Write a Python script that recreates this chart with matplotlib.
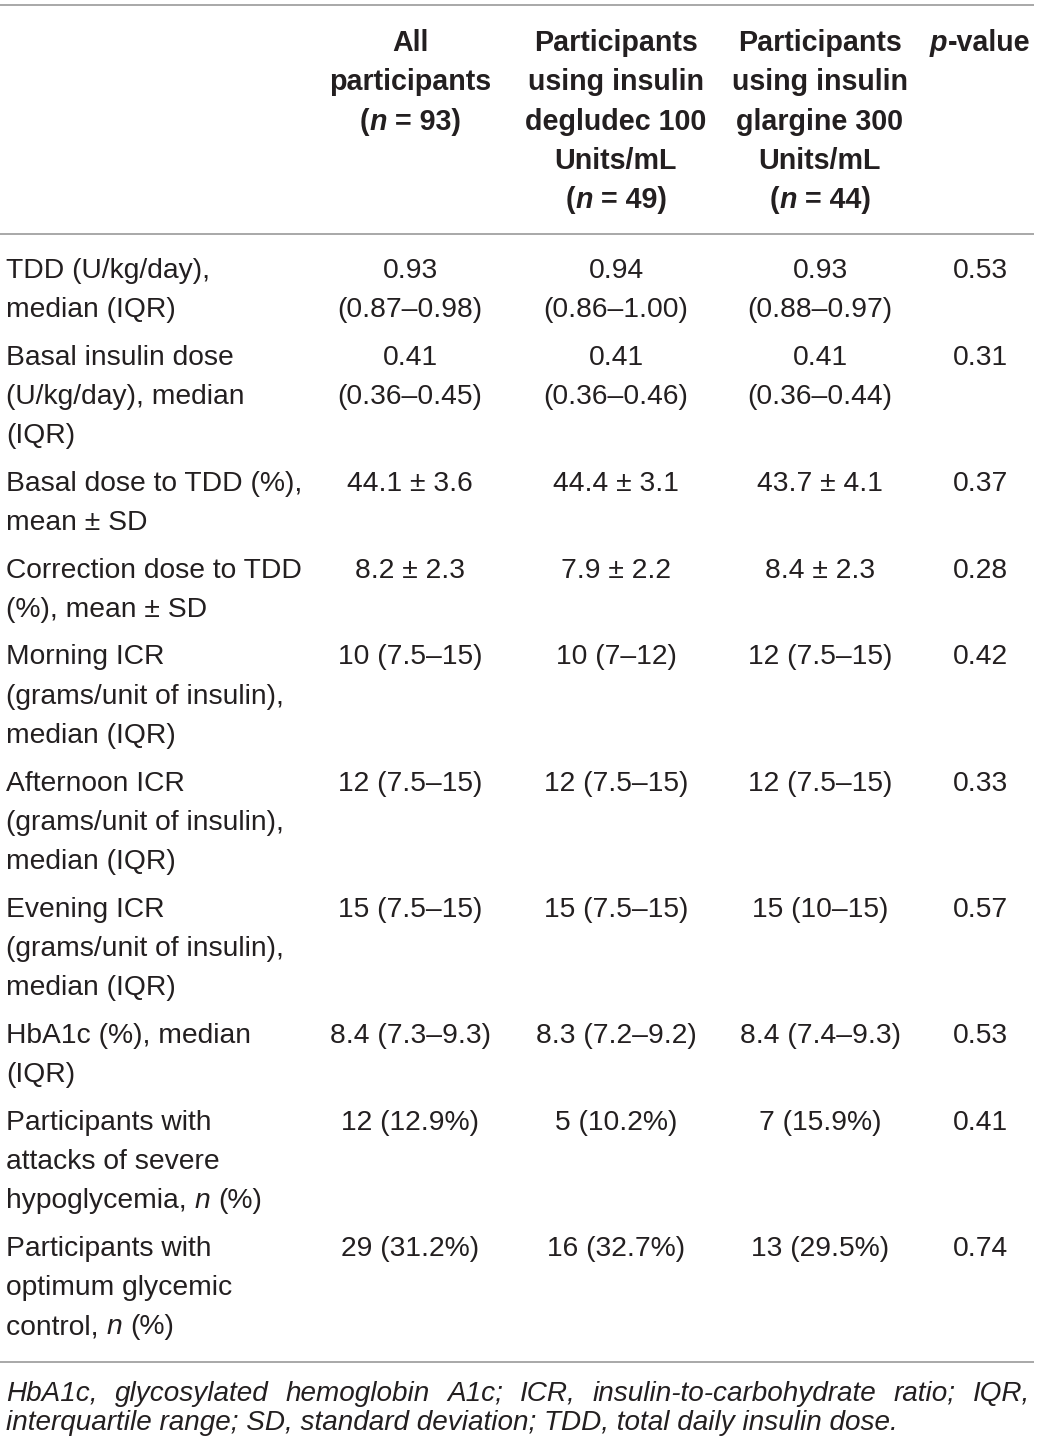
import matplotlib
matplotlib.use("Agg")
import matplotlib.pyplot as plt
from matplotlib import font_manager

# 字体和颜色
FONT = "Liberation Sans"
installed = {f.name for f in font_manager.fontManager.ttflist}
FOOT_FONT = "Liberation Sans Narrow" if "Liberation Sans Narrow" in installed else FONT
TEXT_COLOR = "#231f20"
LINE_COLOR = "#9a9a9a"

# 表头 (*...* 表示斜体)
col_headers = [
    ["All", "participants", "(*n* = 93)"],
    ["Participants", "using insulin", "degludec 100", "Units/mL", "(*n* = 49)"],
    ["Participants", "using insulin", "glargine 300", "Units/mL", "(*n* = 44)"],
    ["*p*-value"],
]

row_labels = [
    ["TDD (U/kg/day),", "median (IQR)"],
    ["Basal insulin dose", "(U/kg/day), median", "(IQR)"],
    ["Basal dose to TDD (%),", "mean ± SD"],
    ["Correction dose to TDD", "(%), mean ± SD"],
    ["Morning ICR", "(grams/unit of insulin),", "median (IQR)"],
    ["Afternoon ICR", "(grams/unit of insulin),", "median (IQR)"],
    ["Evening ICR", "(grams/unit of insulin),", "median (IQR)"],
    ["HbA1c (%), median", "(IQR)"],
    ["Participants with", "attacks of severe", "hypoglycemia, *n* (%)"],
    ["Participants with", "optimum glycemic", "control, *n* (%)"],
]

all_vals = [["0.93", "(0.87–0.98)"], ["0.41", "(0.36–0.45)"], ["44.1 ± 3.6"],
            ["8.2 ± 2.3"], ["10 (7.5–15)"], ["12 (7.5–15)"], ["15 (7.5–15)"],
            ["8.4 (7.3–9.3)"], ["12 (12.9%)"], ["29 (31.2%)"]]
deg_vals = [["0.94", "(0.86–1.00)"], ["0.41", "(0.36–0.46)"], ["44.4 ± 3.1"],
            ["7.9 ± 2.2"], ["10 (7–12)"], ["12 (7.5–15)"], ["15 (7.5–15)"],
            ["8.3 (7.2–9.2)"], ["5 (10.2%)"], ["16 (32.7%)"]]
gla_vals = [["0.93", "(0.88–0.97)"], ["0.41", "(0.36–0.44)"], ["43.7 ± 4.1"],
            ["8.4 ± 2.3"], ["12 (7.5–15)"], ["12 (7.5–15)"], ["15 (10–15)"],
            ["8.4 (7.4–9.3)"], ["7 (15.9%)"], ["13 (29.5%)"]]
p_values = ["0.53", "0.31", "0.37", "0.28", "0.42", "0.33", "0.57", "0.53", "0.41", "0.74"]

footnote = ["HbA1c, glycosylated hemoglobin A1c; ICR, insulin-to-carbohydrate ratio; IQR,",
            "interquartile range; SD, standard deviation; TDD, total daily insulin dose."]

# 版面 (像素)
col_x = [410, 616, 820, 980]
body_size = 20.3
head_size = 20.6
line_step = 39.3
row_gap = 47.5

fig = plt.figure(figsize=(10.4, 14.48), dpi=100)
ax = fig.add_axes([0, 0, 1, 1])
ax.set_xlim(0, 1040)
ax.set_ylim(1448, 0)
ax.axis("off")
renderer = fig.canvas.get_renderer()


def text_width(txt, size, weight="normal", style="normal", family=FONT):
    # 用竖线夹住，保证首尾空格也算进宽度
    def w(s):
        t = ax.text(0, 0, s, fontsize=size, family=family, weight=weight, style=style)
        bb = t.get_window_extent(renderer)
        t.remove()
        return bb.width
    return w("|" + txt + "|") - w("||")


def parse(s):
    parts = s.split("*")
    return [(p, i % 2 == 1) for i, p in enumerate(parts) if p]


def draw_runs(x, y, s, size, weight="normal", ha="center"):
    runs = parse(s)
    widths = [text_width(p, size, weight, "italic" if it else "normal") for p, it in runs]
    start = x - sum(widths) / 2 if ha == "center" else x
    for (p, it), w in zip(runs, widths):
        style = "italic" if it else "normal"
        lead = len(p) - len(p.lstrip())
        off = text_width(" " * lead, size, weight, style) if lead else 0
        ax.text(start + off, y, p.lstrip(), fontsize=size, family=FONT, weight=weight,
                style=style, color=TEXT_COLOR, ha="left", va="baseline")
        start += w


# 横线
for yy in [5, 234, 1362]:
    ax.plot([0, 1034], [yy, yy], color=LINE_COLOR, lw=1.2, solid_capstyle="butt")

# 表头
for cx, lines in zip(col_x, col_headers):
    for i, ln in enumerate(lines):
        draw_runs(cx, 51 + i * line_step, ln, head_size, weight="bold")

# 表体
y = 278
for r in range(len(row_labels)):
    for i, ln in enumerate(row_labels[r]):
        draw_runs(6, y + i * line_step, ln, body_size, ha="left")
    for cx, vals in zip(col_x[:3], [all_vals[r], deg_vals[r], gla_vals[r]]):
        for i, ln in enumerate(vals):
            draw_runs(cx, y + i * line_step, ln, body_size)
    draw_runs(col_x[3], y, p_values[r], body_size)
    y += (len(row_labels[r]) - 1) * line_step + row_gap

# 注释：按第二行宽度定字号，第一行两端对齐
foot_size = 10 * 894 / text_width(footnote[1], 10, style="italic", family=FOOT_FONT)
foot_size = min(foot_size, 21)
words = footnote[0].split(" ")
ws = [text_width(w, foot_size, style="italic", family=FOOT_FONT) for w in words]
gap = (1030 - 6 - sum(ws)) / (len(words) - 1)
xx = 6
for w, wd in zip(words, ws):
    ax.text(xx, 1401, w, fontsize=foot_size, family=FOOT_FONT, style="italic",
            color=TEXT_COLOR, ha="left", va="baseline")
    xx += wd + gap
ax.text(6, 1430, footnote[1], fontsize=foot_size, family=FOOT_FONT, style="italic",
        color=TEXT_COLOR, ha="left", va="baseline")

plt.savefig("out.png", dpi=100)
